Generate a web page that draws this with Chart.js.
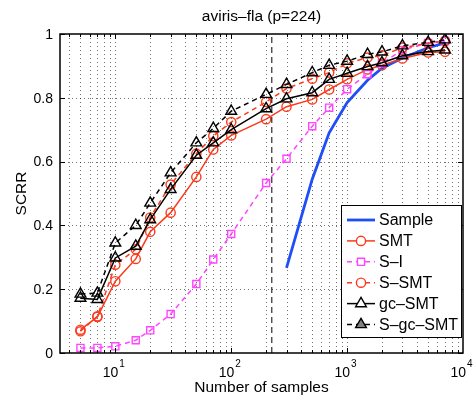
<!DOCTYPE html>
<html>
<head>
<meta charset="utf-8">
<title>aviris-fla SCRR</title>
<script src="https://cdn.jsdelivr.net/npm/chart.js@4.4.1/dist/chart.umd.min.js"></script>
<style>
  html, body { margin: 0; padding: 0; background: #fff; }
  #wrap { width: 474px; height: 399px; }
</style>
</head>
<body>
<div id="wrap"><canvas id="chart" width="474" height="399"></canvas></div>
<script>
// sample sizes n used for the estimators
const sampleSizes = [5, 7, 10, 15, 20, 30, 50, 70, 100, 200, 300, 500, 700, 1000, 1500, 2000, 3000, 5000, 7000];
// the plain sample covariance only starts at n > p
const sampleOnlyX = [300, 500, 700, 1000, 1500, 2000, 3000, 5000, 7000];
const sampleVals = [0.267, 0.545, 0.69, 0.785, 0.855, 0.893, 0.925, 0.957, 0.972];

const smtVals = [0.073, 0.113, 0.225, 0.295, 0.38, 0.44, 0.552, 0.638, 0.682, 0.733, 0.772, 0.795, 0.826, 0.858, 0.889, 0.902, 0.923, 0.942, 0.944];
const sIVals = [0.016, 0.016, 0.021, 0.04, 0.071, 0.122, 0.216, 0.293, 0.373, 0.533, 0.609, 0.711, 0.769, 0.827, 0.874, 0.908, 0.95, 0.972, 0.978];
const sSmtVals = [0.068, 0.115, 0.277, 0.325, 0.425, 0.528, 0.625, 0.68, 0.724, 0.787, 0.829, 0.86, 0.879, 0.908, 0.926, 0.933, 0.957, 0.971, 0.978];
const gcSmtVals = [0.172, 0.168, 0.298, 0.335, 0.418, 0.513, 0.62, 0.659, 0.70, 0.766, 0.797, 0.816, 0.858, 0.877, 0.898, 0.91, 0.932, 0.945, 0.95];
const sGcSmtVals = [0.185, 0.188, 0.345, 0.40, 0.47, 0.565, 0.659, 0.704, 0.758, 0.811, 0.842, 0.879, 0.902, 0.915, 0.936, 0.944, 0.963, 0.974, 0.982];

const pDim = 224;
const xMajorTicks = [10, 100, 1000, 10000];
const yTicks = [0, 0.2, 0.4, 0.6, 0.8, 1];
const xMin = 3.33, xMax = 10000;

const BLUE = "#1f4ef6";
const RED = "#fb3a1c";
const MAGENTA = "#ff45ff";
const FONT = "'Liberation Sans', Arial, Helvetica, sans-serif";

function pts(xs, ys) {
  return xs.map((x, i) => ({ x: x, y: ys[i] }));
}

function series(label, xs, ys, color, opts) {
  return Object.assign({
    label: label,
    data: pts(xs, ys),
    borderColor: color,
    borderWidth: 1.5,
    pointBorderColor: color,
    pointBackgroundColor: "rgba(0,0,0,0)",
    pointBorderWidth: 1.4,
    showLine: true,
    tension: 0,
  }, opts);
}

const datasets = [
  series("Sample", sampleOnlyX, sampleVals, BLUE, { borderWidth: 2.8, pointRadius: 0, order: 6 }),
  series("SMT", sampleSizes, smtVals, RED, { pointStyle: "circle", pointRadius: 4.6, order: 5 }),
  series("S–I", sampleSizes, sIVals, MAGENTA, { pointStyle: "rect", pointRadius: 5, borderDash: [5, 4], order: 4 }),
  series("S–SMT", sampleSizes, sSmtVals, RED, { pointStyle: "circle", pointRadius: 4.6, borderDash: [5, 4], order: 3 }),
  series("gc–SMT", sampleSizes, gcSmtVals, "#000", { pointStyle: "triangle", pointRadius: 6.2, order: 2 }),
  series("S–gc–SMT", sampleSizes, sGcSmtVals, "#000", { pointStyle: "triangle", pointRadius: 6.2, borderDash: [5, 4], order: 1 }),
  {
    label: "p",
    data: [{ x: pDim, y: 0 }, { x: pDim, y: 1 }],
    borderColor: "#000",
    borderWidth: 1,
    borderDash: [6, 4],
    pointRadius: 0,
    showLine: true,
    order: 0,
  },
];

function drawMarker(ctx, style, x, y, r, color, fill) {
  ctx.save();
  ctx.strokeStyle = color;
  ctx.lineWidth = 1.4;
  ctx.setLineDash([]);
  ctx.beginPath();
  if (style === "circle") {
    ctx.arc(x, y, r, 0, Math.PI * 2);
  } else if (style === "rect") {
    const s = r / Math.SQRT2;
    ctx.rect(x - s, y - s, 2 * s, 2 * s);
  } else if (style === "triangle") {
    ctx.moveTo(x, y - r);
    ctx.lineTo(x + r * 0.866, y + r / 2);
    ctx.lineTo(x - r * 0.866, y + r / 2);
    ctx.closePath();
  }
  if (fill) {
    ctx.fillStyle = fill;
    ctx.fill();
  }
  ctx.stroke();
  ctx.restore();
}

const matlabAxes = {
  id: "matlabAxes",
  beforeDatasetsDraw(chart) {
    const ctx = chart.ctx;
    const a = chart.chartArea;
    const xs = chart.scales.x, ys = chart.scales.y;
    ctx.save();
    ctx.strokeStyle = "rgba(0,0,0,0.55)";
    ctx.lineWidth = 1;
    ctx.setLineDash([1, 3]);
    // horizontal grid
    yTicks.slice(1, -1).forEach((v) => {
      const py = Math.round(ys.getPixelForValue(v)) + 0.5;
      ctx.beginPath();
      ctx.moveTo(a.left, py);
      ctx.lineTo(a.right, py);
      ctx.stroke();
    });
    // vertical grid, minor and major log lines
    for (let dec = 1; dec <= 1000; dec *= 10) {
      for (let m = 1; m <= 9; m++) {
        const v = m * dec;
        if (v <= xMin || v >= xMax) continue;
        const px = Math.round(xs.getPixelForValue(v)) + 0.5;
        ctx.beginPath();
        ctx.moveTo(px, a.top);
        ctx.lineTo(px, a.bottom);
        ctx.stroke();
      }
    }
    ctx.restore();
  },
  afterDraw(chart) {
    const ctx = chart.ctx;
    const a = chart.chartArea;
    const xs = chart.scales.x, ys = chart.scales.y;
    ctx.save();
    ctx.setLineDash([]);
    ctx.strokeStyle = "#000";

    // tick marks inside the box
    ctx.lineWidth = 1;
    for (let dec = 1; dec <= 1000; dec *= 10) {
      for (let m = 1; m <= 9; m++) {
        const v = m * dec;
        if (v <= xMin || v >= xMax) continue;
        const len = m === 1 ? 5 : 3;
        const px = Math.round(xs.getPixelForValue(v)) + 0.5;
        ctx.beginPath();
        ctx.moveTo(px, a.bottom);
        ctx.lineTo(px, a.bottom - len);
        ctx.moveTo(px, a.top);
        ctx.lineTo(px, a.top + len);
        ctx.stroke();
      }
    }
    yTicks.forEach((v) => {
      const py = Math.round(ys.getPixelForValue(v)) + 0.5;
      ctx.beginPath();
      ctx.moveTo(a.left, py);
      ctx.lineTo(a.left + 5, py);
      ctx.moveTo(a.right, py);
      ctx.lineTo(a.right - 5, py);
      ctx.stroke();
    });

    // axes box
    ctx.lineWidth = 1.5;
    ctx.strokeRect(a.left, a.top, a.right - a.left, a.bottom - a.top);

    // y tick labels
    ctx.fillStyle = "#000";
    ctx.font = "14px " + FONT;
    ctx.textAlign = "right";
    ctx.textBaseline = "middle";
    yTicks.forEach((v) => {
      ctx.fillText(String(v), a.left - 7, ys.getPixelForValue(v) + 1);
    });

    // x tick labels as 10^k
    ctx.textBaseline = "alphabetic";
    ctx.textAlign = "left";
    xMajorTicks.forEach((v) => {
      const px = xs.getPixelForValue(v);
      const exp = String(Math.round(Math.log10(v)));
      ctx.font = "14px " + FONT;
      const wBase = ctx.measureText("10").width;
      ctx.font = "10px " + FONT;
      const wExp = ctx.measureText(exp).width;
      const x0 = px - 2 - (wBase + wExp) / 2;
      ctx.font = "14px " + FONT;
      ctx.fillText("10", x0, a.bottom + 24);
      ctx.font = "10px " + FONT;
      ctx.fillText(exp, x0 + wBase + 1, a.bottom + 14);
    });

    // title and axis labels
    ctx.textAlign = "center";
    ctx.textBaseline = "middle";
    ctx.font = "15.5px " + FONT;
    ctx.fillText("aviris–fla (p=224)", (a.left + a.right) / 2, 17);
    ctx.fillText("Number of samples", (a.left + a.right) / 2, a.bottom + 35);
    ctx.save();
    ctx.translate(22, (a.top + a.bottom) / 2);
    ctx.rotate(-Math.PI / 2);
    ctx.fillText("SCRR", 0, 0);
    ctx.restore();

    // legend box in the lower right corner
    const boxL = a.right - 122, boxR = a.right - 2;
    const boxT = a.bottom - 148, boxB = a.bottom - 16;
    ctx.fillStyle = "#fff";
    ctx.fillRect(boxL, boxT, boxR - boxL, boxB - boxT);
    ctx.lineWidth = 1;
    ctx.strokeStyle = "#000";
    ctx.strokeRect(boxL + 0.5, boxT + 0.5, boxR - boxL, boxB - boxT);
    const rowH = 20.9;
    const entries = chart.data.datasets.filter((d) => d.label !== "p");
    entries.forEach((d, i) => {
      const cy = boxT + 15 + i * rowH;
      ctx.save();
      ctx.strokeStyle = d.borderColor;
      ctx.lineWidth = d.borderWidth;
      ctx.setLineDash(d.borderDash || []);
      ctx.beginPath();
      ctx.moveTo(boxL + 6, cy);
      ctx.lineTo(boxL + 34, cy);
      ctx.stroke();
      ctx.restore();
      if (d.pointRadius > 0) {
        const fill = d.borderDash && d.pointStyle === "triangle" ? "#808080" : "#fff";
        drawMarker(ctx, d.pointStyle, boxL + 20, cy, d.pointRadius, d.borderColor, fill);
      }
      ctx.fillStyle = "#000";
      ctx.font = "16px " + FONT;
      ctx.textAlign = "left";
      ctx.textBaseline = "middle";
      ctx.fillText(d.label, boxL + 38, cy + 1);
    });
    ctx.restore();
  },
};

new Chart(document.getElementById("chart"), {
  type: "scatter",
  data: { datasets: datasets },
  options: {
    responsive: false,
    devicePixelRatio: 1,
    animation: false,
    layout: {
      autoPadding: false,
      padding: { left: 60, top: 34, right: 11, bottom: 46 },
    },
    plugins: {
      legend: { display: false },
      tooltip: { enabled: false },
    },
    scales: {
      x: { type: "logarithmic", min: xMin, max: xMax, display: false },
      y: { type: "linear", min: 0, max: 1, display: false },
    },
  },
  plugins: [matlabAxes],
});
</script>
</body>
</html>
